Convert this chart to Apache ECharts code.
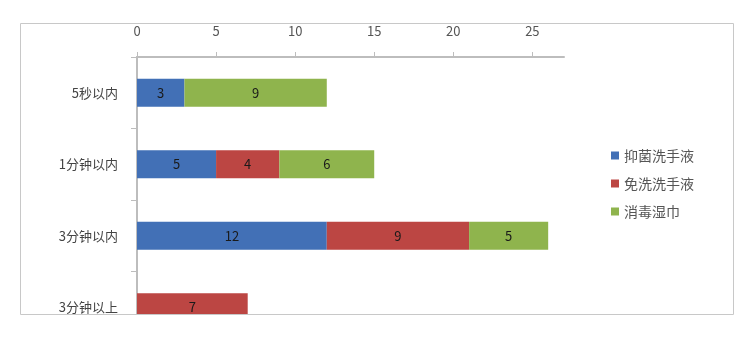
<!DOCTYPE html>
<html><head><meta charset="utf-8">
<script src="https://cdn.jsdelivr.net/npm/echarts@6/dist/echarts.min.js"></script>
<style>html,body{margin:0;padding:0;background:#fff}#c{width:750px;height:363px}</style>
</head><body><div id="c"></div>
<script>
var categories = ['5秒以内', '1分钟以内', '3分钟以内', '3分钟以上'];
var seriesNames = ['抑菌洗手液', '免洗洗手液', '消毒湿巾'];
var antibacterial = [3, 5, 12, '-'];
var noRinse = ['-', 4, 9, 7];
var wipes = [9, 6, 5, '-'];
var xTicks = [0, 5, 10, 15, 20, 25];
var colors = ['#4270B6', '#BC4643', '#8FB44D'];
var font = '"Noto Sans CJK SC", sans-serif';

var chart = echarts.init(document.getElementById('c'));
function mk(name, data, i) {
  return {
    name: name, type: 'bar', stack: 'all', data: data, barWidth: 28,
    itemStyle: { color: colors[i] },
    label: { show: true, position: 'inside', color: '#1a1a1a', fontSize: 13, fontFamily: font }
  };
}
chart.setOption({
  animation: false,
  textStyle: { fontFamily: font },
  grid: { left: 137, right: 186, top: 57, bottom: 20 },
  legend: {
    orient: 'vertical', left: 606, top: 141, itemGap: 9,
    icon: 'rect', itemWidth: 8, itemHeight: 8,
    textStyle: { color: '#555', fontSize: 14, fontFamily: font, lineHeight: 19 },
    data: seriesNames
  },
  xAxis: {
    type: 'value', position: 'top', min: 0, max: 27,
    axisLine: { show: true, lineStyle: { color: '#BDBDBD', width: 2 } },
    axisTick: { show: true, inside: false, length: 5, customValues: xTicks, lineStyle: { color: '#BDBDBD' } },
    axisLabel: { customValues: xTicks, color: '#555', fontSize: 13, margin: 19, fontFamily: font },
    splitLine: { show: false }
  },
  yAxis: {
    type: 'category', inverse: true, data: categories,
    axisLine: { show: true, lineStyle: { color: '#BDBDBD', width: 2 } },
    axisTick: { show: true, length: 6, lineStyle: { color: '#BDBDBD' } },
    axisLabel: { color: '#444', fontSize: 13, margin: 19, fontFamily: font }
  },
  series: [mk(seriesNames[0], antibacterial, 0), mk(seriesNames[1], noRinse, 1), mk(seriesNames[2], wipes, 2)],
  graphic: [
    { type: 'rect', z: 100, shape: { x: 0, y: 315, width: 750, height: 48 }, style: { fill: '#fff' } },
    { type: 'rect', z: 101, shape: { x: 20.5, y: 23.5, width: 713, height: 291 }, style: { fill: 'none', stroke: '#C8C8C8', lineWidth: 1 } }
  ]
});
</script></body></html>
